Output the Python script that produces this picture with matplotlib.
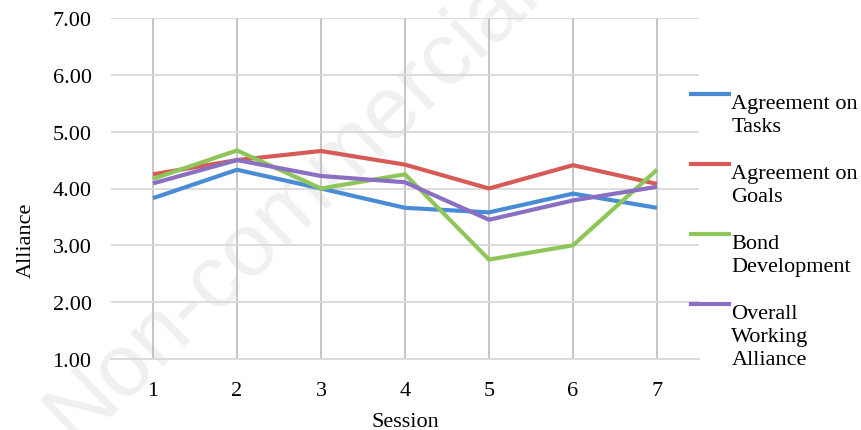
import matplotlib
matplotlib.use("Agg")
import matplotlib.pyplot as plt
from matplotlib.lines import Line2D

# ---------------------------------------------------------------
# data
# ---------------------------------------------------------------
sessions = [1, 2, 3, 4, 5, 6, 7]

tasks = [3.83, 4.33, 4.00, 3.66, 3.58, 3.91, 3.66]
goals = [4.25, 4.50, 4.66, 4.42, 4.00, 4.41, 4.08]
bond = [4.17, 4.67, 4.00, 4.25, 2.75, 3.00, 4.33]
overall = [4.09, 4.50, 4.22, 4.11, 3.45, 3.79, 4.03]

series_labels = [
    "Agreement on\nTasks",
    "Agreement on\nGoals",
    "Bond\nDevelopment",
    "Overall\nWorking\nAlliance",
]
series_colors = ["#4a8bd6", "#d65a56", "#8fc65a", "#8a6fc2"]
y_ticks = [1, 2, 3, 4, 5, 6, 7]

# ---------------------------------------------------------------
# figure
# ---------------------------------------------------------------
plt.rcParams["font.family"] = ["Liberation Serif", "DejaVu Serif"]
FS = 16

fig = plt.figure(figsize=(8.62, 4.31), dpi=100)
fig.patch.set_facecolor("white")

# faint watermark behind the chart
fig.text(
    0.34, 0.53, "Non-commercial",
    family=["Liberation Sans", "DejaVu Sans"],
    fontsize=64, color="#f0f0f0", rotation=44,
    ha="center", va="center", zorder=-5,
)

ax = fig.add_axes([111 / 862, 71 / 431, 588 / 862, 341 / 431])
ax.set_facecolor("none")

for values, color in zip([tasks, goals, bond, overall], series_colors):
    ax.plot(sessions, values, color=color, linewidth=3, solid_capstyle="butt",
            zorder=3)

ax.set_xlim(0.5, 7.5)
ax.set_ylim(1, 7)
ax.set_xticks(sessions)
ax.set_yticks(y_ticks)
ax.set_yticklabels([f"{v:.2f}" for v in y_ticks])

ax.grid(axis="y", color="#d9d9d9", linewidth=1.3, zorder=0)
ax.grid(axis="x", color="#c0c0c0", linewidth=1.3, zorder=0)
ax.set_axisbelow(True)

for side in ["top", "right", "left"]:
    ax.spines[side].set_visible(False)
ax.spines["bottom"].set_color("#d9d9d9")
ax.spines["bottom"].set_linewidth(1.3)

ax.tick_params(axis="x", length=0, pad=15.5, labelsize=FS)
ax.tick_params(axis="y", length=0, pad=14, labelsize=FS)

ax.set_ylabel("Alliance", fontsize=FS)
ax.yaxis.set_label_coords(-0.128, 0.35)
ax.set_xlabel("Session", fontsize=FS, va="center")
ax.xaxis.set_label_coords(0.5, -0.182)

# ---------------------------------------------------------------
# legend: handle next to first line of each label
# ---------------------------------------------------------------
handles = []
labels = []
for i, (label, color) in enumerate(zip(series_labels, series_colors)):
    parts = label.split("\n")
    handles.append(Line2D([], [], color=color, linewidth=3))
    labels.append(parts[0])
    for part in parts[1:]:
        handles.append(Line2D([], [], color="none"))
        labels.append(part)
    if i < len(series_labels) - 1 and len(parts) < 3:
        handles.append(Line2D([], [], color="none"))
        labels.append(" ")

legend = fig.legend(
    handles, labels,
    loc="upper left",
    bbox_to_anchor=(691 / 862, 1 - 93 / 431),
    frameon=False,
    fontsize=FS,
    handlelength=1.7,
    handletextpad=0.12,
    labelspacing=0.125,
    borderpad=0,
    borderaxespad=0,
)

# lift the coloured handles to the cap height of the first text line
for line in legend.get_lines():
    line.set_ydata([y + 4.3 for y in line.get_ydata()])

fig.savefig("out.png", dpi=100)
